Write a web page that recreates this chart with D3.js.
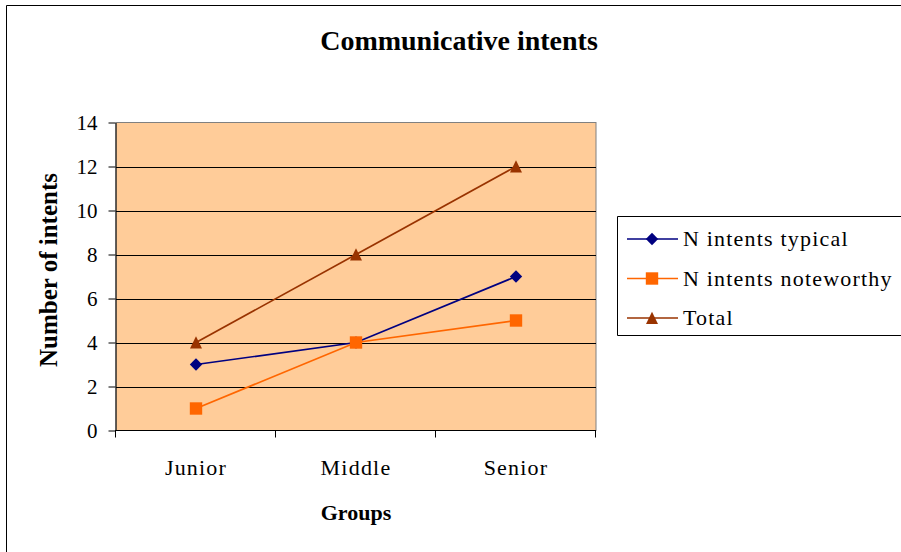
<!DOCTYPE html>
<html><head><meta charset="utf-8">
<script src="https://cdn.jsdelivr.net/npm/d3@7"></script>
<style>html,body{margin:0;padding:0;background:#fff;}</style>
</head><body>
<svg id="c" width="901" height="552"></svg>
<script>
const categories = ["Junior", "Middle", "Senior"];
const typical = [3, 4, 7];
const noteworthy = [1, 4, 5];
const total = [4, 8, 12];
const seriesNames = ["N intents typical", "N intents noteworthy", "Total"];
const yTicks = [0, 2, 4, 6, 8, 10, 12, 14];

const FONT = "Liberation Serif";
const series = [
  {name: seriesNames[0], values: typical, color: "#000080", shape: "diamond"},
  {name: seriesNames[1], values: noteworthy, color: "#FF6600", shape: "square"},
  {name: seriesNames[2], values: total, color: "#993300", shape: "triangle"}
];

const svg = d3.select("#c");
const L = 116, R = 596, T = 122.5, B = 430.5;

// outer chart border (only left and top edges are inside the picture)
svg.append("path").attr("d", "M6.5,552V5.5H901")
  .attr("fill", "none").attr("stroke", "#000").attr("stroke-width", 1);

const x = d3.scaleBand().domain(categories).range([L, R]);
const y = d3.scaleLinear().domain([0, 14]).range([B, T]);

// plot area
svg.append("rect").attr("x", L).attr("y", T).attr("width", R - L).attr("height", B - T)
  .attr("fill", "#FFCC99").attr("stroke", "#808080").attr("stroke-width", 1);

// gridlines
svg.append("g").selectAll("line").data(yTicks.filter(d => d > 0 && d < 14)).join("line")
  .attr("x1", L).attr("x2", R).attr("y1", d => Math.round(y(d)) + 0.5).attr("y2", d => Math.round(y(d)) + 0.5)
  .attr("stroke", "#000").attr("stroke-width", 1);

// y axis
const yAxis = d3.axisLeft(y).tickValues(yTicks).tickSize(7).tickPadding(11).tickSizeOuter(0);
const gy = svg.append("g").attr("transform", `translate(${L - 0.5},0)`).call(yAxis);
gy.attr("font-family", FONT);
gy.select(".domain").attr("stroke", "#000");
gy.selectAll(".tick line").attr("stroke", "#000");
gy.selectAll(".tick text").attr("font-size", 21).attr("fill", "#000").attr("dy", "0.34em");

// x axis
const xEdges = d3.scaleLinear().domain([0, 3]).range([L, R]);
const gx = svg.append("g").attr("transform", `translate(0,${B})`);
gx.append("line").attr("x1", L - 1).attr("x2", R).attr("y1", 0).attr("y2", 0).attr("stroke", "#000");
gx.selectAll("line.t").data([0, 1, 2, 3]).join("line").attr("class", "t")
  .attr("x1", d => Math.round(xEdges(d)) - 0.5).attr("x2", d => Math.round(xEdges(d)) - 0.5)
  .attr("y1", 0).attr("y2", 7).attr("stroke", "#000");
gx.selectAll("text").data(categories).join("text")
  .attr("x", d => x(d) + x.bandwidth() / 2).attr("y", 44.5)
  .attr("text-anchor", "middle").attr("font-size", 22).attr("letter-spacing", 1.2)
  .attr("font-family", FONT).text(d => d);

// lines & markers
const line = d3.line().x((d, i) => x(categories[i]) + x.bandwidth() / 2).y(d => y(d));
const shapes = {
  diamond: "M0,-6.2L6.2,0L0,6.2L-6.2,0Z",
  square: "M-6.2,-6.2H6.2V6.2H-6.2Z",
  triangle: "M0,-6.3L6,6L-6,6Z"
};
series.forEach(s => {
  svg.append("path").datum(s.values).attr("d", line).attr("fill", "none")
    .attr("stroke", s.color).attr("stroke-width", 1.7);
});
series.forEach(s => {
  svg.append("g").selectAll("path").data(s.values).join("path")
    .attr("d", shapes[s.shape])
    .attr("transform", (d, i) => `translate(${x(categories[i]) + x.bandwidth() / 2},${y(d)})`)
    .attr("fill", s.color);
});

// title
svg.append("text").attr("x", 459).attr("y", 50).attr("text-anchor", "middle")
  .attr("font-size", 28).attr("font-weight", "bold").attr("font-family", FONT).text("Communicative intents");
// axis titles
svg.append("text").attr("x", 356).attr("y", 520).attr("text-anchor", "middle")
  .attr("font-size", 22).attr("font-weight", "bold").attr("font-family", FONT).text("Groups");
svg.append("text").attr("transform", "translate(57,270) rotate(-90)").attr("text-anchor", "middle")
  .attr("font-size", 25).attr("font-weight", "bold").attr("font-family", FONT).text("Number of intents");

// legend (right edge runs past the picture)
const lg = svg.append("g");
lg.append("path").attr("d", "M901,216.5H617.5V335.5H901")
  .attr("fill", "#fff").attr("stroke", "#000").attr("stroke-width", 1);
const rowsY = [239, 278.5, 318];
series.forEach((s, i) => {
  const g = lg.append("g").attr("transform", `translate(0,${rowsY[i]})`);
  g.append("line").attr("x1", 627).attr("x2", 678).attr("y1", 0).attr("y2", 0)
    .attr("stroke", s.color).attr("stroke-width", 1.7);
  g.append("path").attr("d", shapes[s.shape]).attr("transform", "translate(652,0)").attr("fill", s.color);
  g.append("text").attr("x", 683).attr("y", 7.3).attr("font-size", 22).attr("letter-spacing", 1.2)
    .attr("font-family", FONT).text(s.name);
});
</script>
</body></html>
